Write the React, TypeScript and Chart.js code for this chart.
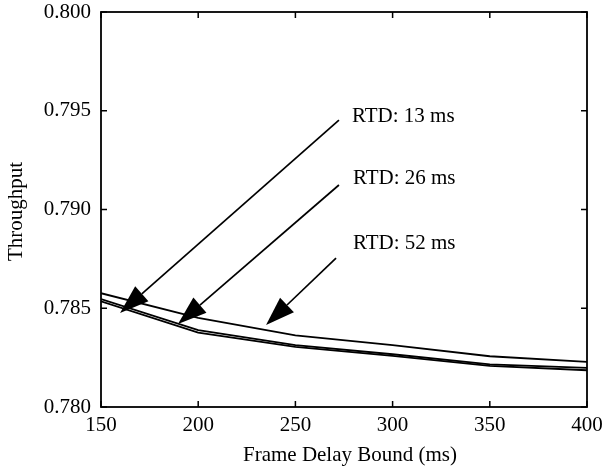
import React, { useEffect, useRef } from "react";
import { Chart, registerables } from "chart.js";

Chart.register(...registerables);

// Frame delay bound (ms) on the x axis
const delayBounds = [150, 200, 250, 300, 350, 400];

// Throughput for each round-trip delay
const throughputRtd52 = [0.78576, 0.78451, 0.78363, 0.78313, 0.78257, 0.78228];
const throughputRtd26 = [0.78546, 0.78389, 0.78313, 0.78267, 0.78216, 0.78198];
const throughputRtd13 = [0.78535, 0.78377, 0.78304, 0.78259, 0.78208, 0.78186];

// Axis ticks
const xTicks = [150, 200, 250, 300, 350, 400];
const yTicks = [0.78, 0.785, 0.79, 0.795, 0.8];

// Callout labels and their arrows (data coordinates)
const calloutLabels = ["RTD: 13 ms", "RTD: 26 ms", "RTD: 52 ms"];
const calloutTextX = [279.1, 279.6, 279.6];
const calloutTextY = [0.79443, 0.79129, 0.788];
const arrowFromX = [272.4, 272.4, 270.9];
const arrowFromY = [0.79453, 0.79124, 0.78754];
const arrowToX = [159.8, 189.6, 234.9];
const arrowToY = [0.78476, 0.7842, 0.78415];

const FONT_FAMILY = "'Liberation Serif', 'Times New Roman', Times, serif";
const INK = "#000";

const framePlugin = {
  id: "frameAndCallouts",
  afterDraw(chart: any) {
    const { ctx, chartArea } = chart;
    const xs = chart.scales.x;
    const ys = chart.scales.y;
    const { left, right, top, bottom } = chartArea;
    ctx.save();

    // box
    ctx.strokeStyle = INK;
    ctx.lineWidth = 1.8;
    ctx.strokeRect(left, top, right - left, bottom - top);

    // inward tick marks on all four sides
    const tl = 6;
    ctx.lineWidth = 1.5;
    ctx.beginPath();
    xTicks.forEach((v) => {
      const px = xs.getPixelForValue(v);
      ctx.moveTo(px, bottom);
      ctx.lineTo(px, bottom - tl);
      ctx.moveTo(px, top);
      ctx.lineTo(px, top + tl);
    });
    yTicks.forEach((v) => {
      const py = ys.getPixelForValue(v);
      ctx.moveTo(left, py);
      ctx.lineTo(left + tl, py);
      ctx.moveTo(right, py);
      ctx.lineTo(right - tl, py);
    });
    ctx.stroke();

    // arrows
    const headLen = 29;
    const headHalf = 10;
    ctx.fillStyle = INK;
    ctx.lineWidth = 1.7;
    for (let i = 0; i < arrowFromX.length; i++) {
      const x0 = xs.getPixelForValue(arrowFromX[i]);
      const y0 = ys.getPixelForValue(arrowFromY[i]);
      const x1 = xs.getPixelForValue(arrowToX[i]);
      const y1 = ys.getPixelForValue(arrowToY[i]);
      const ang = Math.atan2(y1 - y0, x1 - x0);
      const bx = x1 - headLen * Math.cos(ang);
      const by = y1 - headLen * Math.sin(ang);
      ctx.beginPath();
      ctx.moveTo(x0, y0);
      ctx.lineTo(bx, by);
      ctx.stroke();
      ctx.beginPath();
      ctx.moveTo(x1, y1);
      ctx.lineTo(bx + headHalf * Math.sin(ang), by - headHalf * Math.cos(ang));
      ctx.lineTo(bx - headHalf * Math.sin(ang), by + headHalf * Math.cos(ang));
      ctx.closePath();
      ctx.fill();
    }

    // callout text
    ctx.font = `21px ${FONT_FAMILY}`;
    ctx.textAlign = "left";
    ctx.textBaseline = "alphabetic";
    for (let i = 0; i < calloutLabels.length; i++) {
      ctx.fillText(
        calloutLabels[i],
        xs.getPixelForValue(calloutTextX[i]),
        ys.getPixelForValue(calloutTextY[i])
      );
    }

    // axis titles
    ctx.textAlign = "center";
    ctx.fillText("Frame Delay Bound (ms)", (left + right) / 2 + 6, 461);
    ctx.translate(22, (top + bottom) / 2 + 2);
    ctx.rotate(-Math.PI / 2);
    ctx.fillText("Throughput", 0, 0);

    ctx.restore();
  },
};

// keep the plot area fixed: no extra room reserved for edge tick labels
const clearScalePadding = (s: any) => {
  s.paddingTop = 0;
  s.paddingBottom = 0;
  s.paddingLeft = 0;
  s.paddingRight = 0;
};

export default function App() {
  const canvasRef = useRef<HTMLCanvasElement | null>(null);

  useEffect(() => {
    if (!canvasRef.current) return;
    const line = (data: number[]) => ({
      data: delayBounds.map((x, i) => ({ x, y: data[i] })),
      borderColor: INK,
      borderWidth: 1.8,
      pointRadius: 0,
      tension: 0,
      fill: false,
    });
    const chart = new Chart(canvasRef.current, {
      type: "line",
      data: {
        datasets: [
          { label: "RTD: 52 ms", ...line(throughputRtd52) },
          { label: "RTD: 26 ms", ...line(throughputRtd26) },
          { label: "RTD: 13 ms", ...line(throughputRtd13) },
        ],
      },
      options: {
        responsive: false,
        animation: false,
        layout: { padding: { top: 12, right: 16, left: 0, bottom: 0 } },
        plugins: {
          legend: { display: false },
          tooltip: { enabled: false },
        },
        scales: {
          x: {
            type: "linear",
            min: 150,
            max: 400,
            grid: { display: false, drawTicks: false },
            border: { display: false },
            ticks: {
              color: INK,
              font: { family: FONT_FAMILY, size: 21 },
              padding: 6,
              maxRotation: 0,
            },
            afterBuildTicks: (s: any) => {
              s.ticks = xTicks.map((v) => ({ value: v }));
            },
            afterFit: (s: any) => {
              s.height = 66;
              clearScalePadding(s);
            },
          },
          y: {
            type: "linear",
            min: 0.78,
            max: 0.8,
            grid: { display: false, drawTicks: false },
            border: { display: false },
            ticks: {
              color: INK,
              font: { family: FONT_FAMILY, size: 21 },
              padding: 10,
              callback: (v: any) => Number(v).toFixed(3),
            },
            afterBuildTicks: (s: any) => {
              s.ticks = yTicks.map((v) => ({ value: v }));
            },
            afterFit: (s: any) => {
              s.width = 101;
              clearScalePadding(s);
            },
          },
        },
      },
      plugins: [framePlugin],
    });
    return () => chart.destroy();
  }, []);

  return (
    <div style={{ position: "absolute", left: 0, top: 0, width: 603, height: 473, background: "#fff" }}>
      <canvas ref={canvasRef} width={603} height={473} style={{ display: "block" }} />
    </div>
  );
}
